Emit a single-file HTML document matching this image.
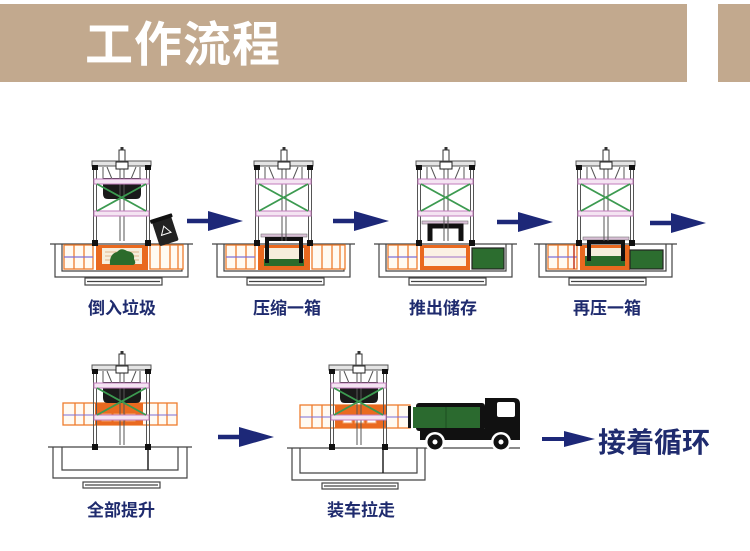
<!DOCTYPE html>
<html><head><meta charset="utf-8">
<style>
html,body{margin:0;padding:0;background:#fff;width:750px;height:551px;overflow:hidden}
svg{display:block}
.lbl{font-family:"Liberation Sans","Noto Sans CJK SC",sans-serif;font-weight:700;fill:#1f2b6e;font-size:17px}
.hdr{font-family:"Liberation Sans","Noto Sans CJK SC",sans-serif;font-weight:700;fill:#fff;font-size:48px;letter-spacing:1px}
.big{font-family:"Liberation Sans","Noto Sans CJK SC",sans-serif;font-weight:700;fill:#1f2b6e;font-size:28px}
</style></head><body>
<svg width="750" height="551" viewBox="0 0 750 551" xmlns="http://www.w3.org/2000/svg">
<defs>
<g id="tower">
 <rect x="26" y="-11" width="6" height="11" fill="#fff" stroke="#333" stroke-width="1"/>
 <rect x="27.5" y="-14" width="3" height="3" fill="#333"/>
 <rect x="-1" y="0" width="59" height="5" fill="#e4e4e4" stroke="#555" stroke-width="1"/>
 <g stroke="#555" stroke-width="1" fill="none">
  <line x1="0.5" y1="5" x2="0.5" y2="84"/>
  <line x1="3.5" y1="5" x2="3.5" y2="84"/>
  <line x1="53.5" y1="5" x2="53.5" y2="84"/>
  <line x1="56.5" y1="5" x2="56.5" y2="84"/>
  <line x1="10" y1="6" x2="10" y2="18"/>
  <line x1="47" y1="6" x2="47" y2="18"/>
  <line x1="14" y1="6" x2="19" y2="18"/>
  <line x1="43" y1="6" x2="38" y2="18"/>
  <line x1="27" y1="8" x2="27" y2="80"/>
  <line x1="31" y1="8" x2="31" y2="80"/>
 </g>
 <rect x="23" y="1" width="12" height="7" fill="#fff" stroke="#222" stroke-width="1"/>
 <rect x="-1" y="4" width="6" height="5" fill="#111"/>
 <rect x="52" y="4" width="6" height="5" fill="#111"/>
 <rect x="-1" y="79" width="6" height="6" fill="#111"/>
 <rect x="52" y="79" width="6" height="6" fill="#111"/>
 <rect x="1" y="18" width="55" height="5" fill="#f4e4f2" stroke="#c27cbc" stroke-width="1"/>
 <rect x="1" y="50" width="55" height="5" fill="#f4e4f2" stroke="#c27cbc" stroke-width="1"/>
 <line x1="4" y1="23" x2="53" y2="50" stroke="#3c9a50" stroke-width="1.8"/>
 <line x1="53" y1="23" x2="4" y2="50" stroke="#3c9a50" stroke-width="1.8"/>
</g>
<path id="headUp" d="M10 17 H48 V33 Q48 38 43 38 H15 Q10 38 10 33 Z" fill="#1a1a1a"/>
<g id="pit1" fill="none" stroke="#444" stroke-width="1.2">
 <line x1="-43" y1="0" x2="100" y2="0"/>
 <path d="M-38 0 V33 H95 V0"/>
 <path d="M-31 0 V27 H89 V0"/>
 <rect x="-8" y="34" width="77" height="7" fill="#fff"/>
 <line x1="-6" y1="37.5" x2="67" y2="37.5"/>
</g>
<g id="cellsL" stroke="#ef7d2c" stroke-width="1.3">
 <rect x="-29" y="1" width="29" height="24" fill="#fffaf2"/>
 <line x1="-19" y1="1" x2="-19" y2="25"/>
 <line x1="-9" y1="1" x2="-9" y2="25"/>
 <line x1="-29" y1="13" x2="0" y2="13" stroke="#7d6fd6"/>
</g>
<g id="cellsR" stroke="#ef7d2c" stroke-width="1.3">
 <rect x="57" y="1" width="33" height="24" fill="#fffaf2"/>
 <line x1="67" y1="1" x2="67" y2="25"/>
 <line x1="77" y1="1" x2="77" y2="25"/>
 <line x1="85" y1="1" x2="85" y2="25"/>
</g>
<path id="arrow" d="M0 -2.2 H21 V-10 L56 0 L21 10 V2.2 H0 Z" fill="#1d2878"/>
</defs>

<!-- header -->
<rect x="0" y="4" width="687" height="78" fill="#c2a98e"/>
<rect x="718" y="4" width="32" height="78" fill="#c2a98e"/>
<text x="85" y="61" class="hdr">工作流程</text>

<!-- ========== Unit 1 (c=93) ========== -->
<use href="#pit1" x="93" y="244"/>
<g transform="translate(93,244)">
 <use href="#cellsL"/>
 <use href="#cellsR"/>
 <rect x="3" y="1" width="52" height="25" fill="#e9691f"/>
 <rect x="9" y="4" width="40" height="16" fill="#f6eedc"/>
 <g stroke="#d9a070" stroke-width="0.8"><line x1="12" y1="8" x2="46" y2="8"/><line x1="12" y1="12" x2="46" y2="12"/><line x1="12" y1="16" x2="46" y2="16"/></g>
 <path d="M17 21 Q16 10 24 8 Q28 3 34 7 Q42 8 41 15 Q44 20 40 21 Z" fill="#2b6b2b"/>
</g>
<use href="#headUp" x="93" y="161"/>
<use href="#tower" x="93" y="161"/>
<g transform="translate(165,230) rotate(-18)">
 <rect x="-10" y="-11" width="20" height="25" rx="2" fill="#222"/>
 <rect x="-11.5" y="-14" width="23" height="4" rx="1" fill="#111"/>
 <path d="M0 -4 L5 4 H-5 Z" fill="none" stroke="#fff" stroke-width="1"/>
</g>
<use href="#arrow" x="187" y="221"/>
<text x="122" y="314" text-anchor="middle" class="lbl">倒入垃圾</text>

<!-- ========== Unit 2 (c=255) ========== -->
<use href="#pit1" x="255" y="244"/>
<g transform="translate(255,244)">
 <use href="#cellsL"/>
 <use href="#cellsR"/>
 <rect x="3" y="1" width="52" height="25" fill="#e9691f"/>
 <rect x="9" y="4" width="40" height="11" fill="#f6eedc"/>
 <rect x="9" y="15" width="40" height="7" fill="#2b6b2b"/>
</g>
<g transform="translate(255,161)">
 <rect x="6" y="73" width="46" height="3" fill="#d9c0d6" stroke="#777" stroke-width="0.6"/>
 <path d="M12 102 V78 H46 V102" fill="none" stroke="#111" stroke-width="4"/>
</g>
<use href="#tower" x="255" y="161"/>
<use href="#arrow" x="333" y="221"/>
<text x="287" y="314" text-anchor="middle" class="lbl">压缩一箱</text>

<!-- ========== Unit 3 (c=417) ========== -->
<use href="#pit1" x="417" y="244"/>
<g transform="translate(417,244)">
 <use href="#cellsL"/>
 <rect x="3" y="1" width="50" height="25" fill="#e9691f"/>
 <rect x="7" y="4" width="42" height="18" fill="#fbf1e4"/>
 <line x1="7" y1="13" x2="49" y2="13" stroke="#9c6fc8" stroke-width="1"/>
 <rect x="55" y="4" width="32" height="21" fill="#2c6d2f" stroke="#222" stroke-width="1.2"/>
</g>
<g transform="translate(417,161)">
 <rect x="5" y="60" width="46" height="3" fill="#d9c0d6" stroke="#777" stroke-width="0.6"/>
 <path d="M13 80 V65 H44 V80" fill="none" stroke="#111" stroke-width="5"/>
</g>
<use href="#tower" x="417" y="161"/>
<use href="#arrow" x="497" y="222"/>
<text x="443" y="314" text-anchor="middle" class="lbl">推出储存</text>

<!-- ========== Unit 4 (c=577) ========== -->
<use href="#pit1" x="577" y="244"/>
<g transform="translate(577,244)">
 <use href="#cellsL"/>
 <rect x="3" y="1" width="50" height="25" fill="#e9691f"/>
 <rect x="8" y="4" width="40" height="8" fill="#f6eedc"/>
 <rect x="8" y="12" width="40" height="10" fill="#2b6b2b"/>
 <rect x="53" y="6" width="33" height="19" fill="#2c6d2f" stroke="#222" stroke-width="1.2"/>
 <line x1="-3" y1="1" x2="-3" y2="25" stroke="#c2381c" stroke-width="1.5"/>
</g>
<g transform="translate(577,161)">
 <rect x="6" y="76" width="46" height="3" fill="#d9c0d6" stroke="#777" stroke-width="0.6"/>
 <path d="M12 100 V81 H46 V100" fill="none" stroke="#111" stroke-width="4"/>
</g>
<use href="#tower" x="577" y="161"/>
<use href="#arrow" x="650" y="223"/>
<text x="607" y="314" text-anchor="middle" class="lbl">再压一箱</text>

<!-- ========== Unit 5 (c=93, row 2) ========== -->
<g transform="translate(93,447)" fill="none" stroke="#444" stroke-width="1.2">
 <line x1="-45" y1="0" x2="99" y2="0"/>
 <path d="M-40 0 V31 H94 V0"/>
 <path d="M-31 0 V23 H85 V0"/>
 <rect x="-10" y="35" width="77" height="6" fill="#fff"/>
 <line x1="-8" y1="38" x2="65" y2="38"/>
 <line x1="55" y1="0" x2="55" y2="23" stroke="#222" stroke-width="1.5"/>
</g>
<g stroke="#ef7d2c" stroke-width="1.3">
 <rect x="63" y="403" width="114" height="22" fill="#fffaf2"/>
 <line x1="75" y1="403" x2="75" y2="425"/>
 <line x1="84" y1="403" x2="84" y2="425"/>
 <line x1="158" y1="403" x2="158" y2="425"/>
 <line x1="167" y1="403" x2="167" y2="425"/>
 <rect x="95" y="403" width="48" height="22" fill="#ea6a20" stroke="none"/>
 <rect x="102" y="414" width="9" height="7" fill="#fff" stroke="#f3a26a" stroke-width="1"/>
 <rect x="114" y="414" width="9" height="7" fill="#fff" stroke="#f3a26a" stroke-width="1"/>
 <rect x="126" y="414" width="9" height="7" fill="#fff" stroke="#f3a26a" stroke-width="1"/>
 <line x1="63" y1="415" x2="177" y2="415" stroke="#7d6fd6" stroke-width="1"/>
</g>
<use href="#headUp" x="93" y="365"/>
<use href="#tower" x="93" y="365"/>
<use href="#arrow" x="218" y="437"/>
<text x="121" y="516" text-anchor="middle" class="lbl">全部提升</text>

<!-- ========== Unit 6 (c=330, row 2) ========== -->
<g transform="translate(330,448)" fill="none" stroke="#444" stroke-width="1.2">
 <line x1="-43" y1="0" x2="190" y2="0"/>
 <path d="M-38 0 V32 H95 V0"/>
 <path d="M-30 0 V25 H87 V0"/>
 <rect x="-8" y="35" width="76" height="6" fill="#fff"/>
 <line x1="-6" y1="38" x2="66" y2="38"/>
 <line x1="53" y1="0" x2="53" y2="25" stroke="#222" stroke-width="1.5"/>
</g>
<g stroke="#ef7d2c" stroke-width="1.3">
 <rect x="300" y="405" width="110" height="23" fill="#fffaf2"/>
 <line x1="312" y1="405" x2="312" y2="428"/>
 <line x1="322" y1="405" x2="322" y2="428"/>
 <line x1="398" y1="405" x2="398" y2="428"/>
 <rect x="335" y="405" width="52" height="23" fill="#ea6a20" stroke="none"/>
 <rect x="343" y="416" width="9" height="7" fill="#fff" stroke="#f3a26a" stroke-width="1"/>
 <rect x="355" y="416" width="9" height="7" fill="#fff" stroke="#f3a26a" stroke-width="1"/>
 <rect x="367" y="416" width="9" height="7" fill="#fff" stroke="#f3a26a" stroke-width="1"/>
 <line x1="300" y1="417" x2="410" y2="417" stroke="#7d6fd6" stroke-width="1"/>
</g>
<rect x="408" y="406" width="3" height="22" fill="#111"/>
<use href="#headUp" x="330" y="365"/>
<use href="#tower" x="330" y="365"/>

<!-- truck -->
<rect x="416" y="403" width="69" height="28" rx="3" fill="#111"/>
<rect x="413" y="407" width="67" height="21" fill="#2b6a2f"/>
<line x1="446" y1="407" x2="446" y2="428" stroke="#1d4d20" stroke-width="1"/>
<path d="M485 440 V398 H514 Q520 398 520 404 V440 Z" fill="#111"/>
<rect x="497" y="402" width="18" height="15" rx="2" fill="#fff"/>
<rect x="420" y="429" width="100" height="11" fill="#111"/>
<circle cx="435" cy="442" r="10" fill="#fff"/>
<circle cx="501" cy="442" r="10" fill="#fff"/>
<circle cx="435" cy="442" r="7.5" fill="#111"/>
<circle cx="501" cy="442" r="7.5" fill="#111"/>
<circle cx="435" cy="442" r="2.5" fill="#fff"/>
<circle cx="501" cy="442" r="2.5" fill="#fff"/>
<text x="361" y="516" text-anchor="middle" class="lbl">装车拉走</text>

<!-- final -->
<path d="M542 437 H564 V431 L595 439 L564 447 V441 H542 Z" fill="#1d2878"/>
<text x="598" y="452" class="big">接着循环</text>
</svg>
</body></html>
